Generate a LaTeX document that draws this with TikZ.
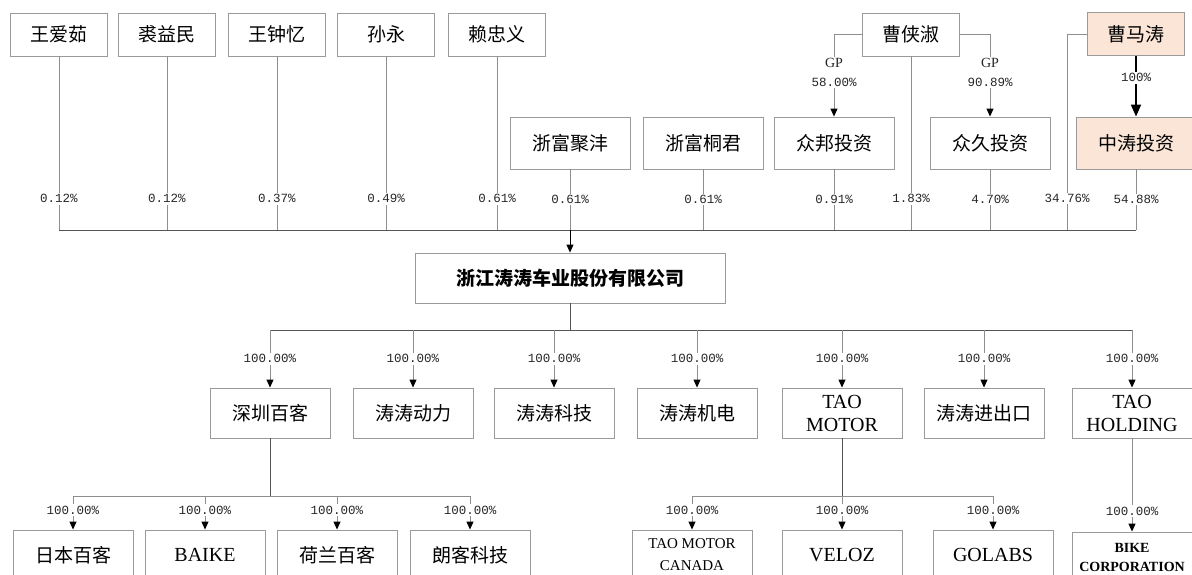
\documentclass[tikz,border=0pt]{standalone}
\usepackage{fontspec}
\setmainfont{Liberation Serif}
\newfontfamily\cjk{Noto Sans CJK SC}
\newfontfamily\pctfont{Liberation Mono}
\usetikzlibrary{arrows.meta, calc}
\definecolor{peach}{HTML}{FBE5D6}
\definecolor{frame}{HTML}{9A9A9A}
\definecolor{link}{HTML}{8E8E8E}
\definecolor{trunk}{HTML}{555555}

\begin{document}
\begin{tikzpicture}[
    x=1pt, y=-1pt,
    box/.style={draw=frame, line width=0.9pt, minimum width=120pt, minimum height=50pt, inner sep=2pt, align=center, font=\fontsize{19}{21}\selectfont\cjk},
    pbox/.style={box, minimum width=97pt, minimum height=43pt},
    lbox/.style={box, font=\fontsize{20}{23}\selectfont\rmfamily},
    pct/.style={font=\fontsize{12.5}{19}\selectfont\pctfont, fill=white, inner sep=1.5pt, align=center, text=black!85},
    link/.style={draw=link, line width=0.9pt},
    trunk/.style={draw=trunk, line width=0.9pt},
    arr/.style={link, -{Triangle[length=8pt, width=7pt, color=black]}},
    bigarr/.style={draw=black, line width=1.8pt, -{Triangle[length=12pt, width=10pt]}}
]
    \useasboundingbox (0,0) rectangle (1192,574);

    % --- Shareholders: natural persons ---
    \node[pbox] (wangai) at (59,34.5) {王爱茹};
    \node[pbox] (qiuyi) at (167,34.5) {裘益民};
    \node[pbox] (wangzh) at (277,34.5) {王钟忆};
    \node[pbox] (sunyong) at (386,34.5) {孙永};
    \node[pbox] (laizh) at (497,34.5) {赖忠义};
    \node[pbox] (caoxs) at (911,34.5) {曹侠淑};
    \node[pbox, fill=peach] (caomt) at (1136,34) {曹马涛};

    % --- Shareholders: partnerships / holding ---
    \node[box, minimum height=52pt] (zfjf) at (570,143) {浙富聚沣};
    \node[box, minimum height=52pt] (zftj) at (703,143) {浙富桐君};
    \node[box, minimum height=52pt] (zbtz) at (834,143) {众邦投资};
    \node[box, minimum height=52pt] (zjtz) at (990,143) {众久投资};
    \node[box, minimum height=52pt, fill=peach] (zttz) at (1136,143) {中涛投资};

    % --- Issuer ---
    \node[box, minimum width=310pt, font=\fontsize{19}{21}\selectfont\cjk\bfseries] (main) at (570,278) {浙江涛涛车业股份有限公司};

    % --- Subsidiaries ---
    \node[box] (szbk) at (270,413) {深圳百客};
    \node[box] (ttdl) at (413,413) {涛涛动力};
    \node[box] (ttkj) at (554,413) {涛涛科技};
    \node[box] (ttjd) at (697,413) {涛涛机电};
    \node[lbox] (tmotor) at (842,413) {TAO\\MOTOR};
    \node[box] (ttjck) at (984,413) {涛涛进出口};
    \node[lbox] (thold) at (1132,413) {TAO\\HOLDING};

    % --- Second-level subsidiaries ---
    \node[box] (rbbk) at (73,555) {日本百客};
    \node[lbox] (baike) at (205,555) {BAIKE};
    \node[box] (hlbk) at (337,555) {荷兰百客};
    \node[box] (lkkj) at (470,555) {朗客科技};
    \node[lbox, font=\fontsize{15}{22}\selectfont\rmfamily] (tmcan) at (692,555) {TAO MOTOR\\CANADA};
    \node[lbox] (veloz) at (842,555) {VELOZ};
    \node[lbox] (golabs) at (993,555) {GOLABS};
    \node[lbox, font=\fontsize{14}{19}\selectfont\rmfamily\bfseries] (bike) at (1132,557) {BIKE\\CORPORATION};

    \coordinate (bus1) at (0,230);
    \coordinate (bus2) at (0,330);
    \coordinate (bus3) at (0,496);
    \coordinate (mtdrop) at (1067,230);

    % --- Holdings into the issuer ---
    \foreach \n/\p in {wangai/0.12, qiuyi/0.12, wangzh/0.37, sunyong/0.49, laizh/0.61, caoxs/1.83}
        \draw[link] (\n.south) -- node[pct, pos=0.82] {\p\%} (\n.south |- bus1);
    \foreach \n/\p in {zfjf/0.61, zftj/0.61, zbtz/0.91, zjtz/4.70, zttz/54.88}
        \draw[link] (\n.south) -- node[pct, midway] {\p\%} (\n.south |- bus1);
    \draw[link] (caomt.west) -| node[pct, pos=0.92] {34.76\%} (mtdrop);
    \draw[trunk] (wangai.south |- bus1) -- (zttz.south |- bus1);
    \draw[arr, draw=black] (main.north |- bus1) -- (main.north);

    % --- GP links and 100% holding ---
    \draw[arr] (caoxs.west) -| node[pct, pos=0.73] {{\fontsize{14}{19}\selectfont\rmfamily GP}\\58.00\%} (zbtz.north);
    \draw[arr] (caoxs.east) -| node[pct, pos=0.73] {{\fontsize{14}{19}\selectfont\rmfamily GP}\\90.89\%} (zjtz.north);
    \draw[bigarr] (caomt.south) -- node[pct, pos=0.36] {100\%} (zttz.north);

    % --- Issuer to subsidiaries ---
    \draw[trunk] (main.south) -- (main.south |- bus2);
    \draw[trunk] (szbk.north |- bus2) -- (thold.north |- bus2);
    \foreach \n in {szbk, ttdl, ttkj, ttjd, tmotor, ttjck, thold}
        \draw[arr] (\n.north |- bus2) -- node[pct, midway] {100.00\%} (\n.north);

    % --- Second level ---
    \draw[trunk] (szbk.south) -- (szbk.south |- bus3);
    \draw[link] (rbbk.north |- bus3) -- (lkkj.north |- bus3);
    \draw[trunk] (tmotor.south) -- (tmotor.south |- bus3);
    \draw[link] (tmcan.north |- bus3) -- (golabs.north |- bus3);
    \foreach \n in {rbbk, baike, hlbk, lkkj, tmcan, veloz, golabs}
        \draw[arr] (\n.north |- bus3) -- node[pct, pos=0.42] {100.00\%} (\n.north);
    \draw[arr] (thold.south) -- node[pct, pos=0.78] {100.00\%} (bike.north);
\end{tikzpicture}
\end{document}
